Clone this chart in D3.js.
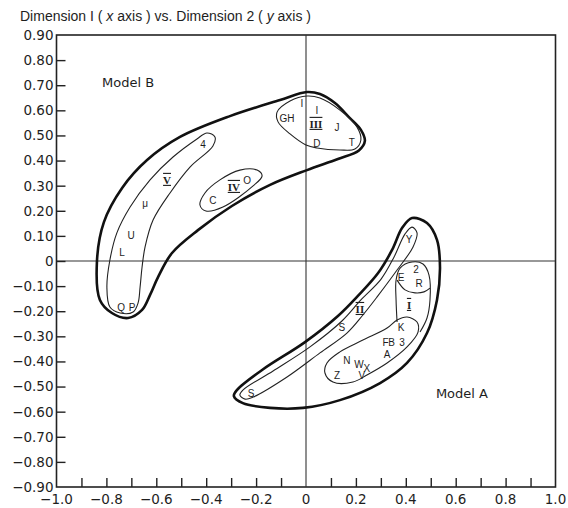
<!DOCTYPE html>
<html><head><meta charset="utf-8">
<script src="https://cdn.jsdelivr.net/npm/d3@7"></script>
<style>
body{margin:0;background:#fff}
text{fill:#1e1e1e}
.lbl{font-family:"Liberation Sans",Arial,sans-serif;font-size:10px}
.roman{font-family:"Liberation Serif",serif;font-size:11px;font-weight:bold;text-decoration:overline underline}
.tick{font-family:"DejaVu Sans",sans-serif;font-size:13.5px}
</style>
</head><body><svg id="c" width="568" height="508"></svg>
<script>
// ---- data ----
const xTickMarks = [-0.9,-0.8,-0.7,-0.6,-0.5,-0.4,-0.3,-0.2,-0.1,0.1,0.2,0.3,0.4,0.5,0.6,0.7,0.8,0.9];
const xTickLabelValues = [-1.0,-0.8,-0.6,-0.4,-0.2,0,0.2,0.4,0.6,0.8,1.0];
const xTickLabels = ["−1.0","−0.8","−0.6","−0.4","−0.2","0","0.2","0.4","0.6","0.8","1.0"];
const yTickValues = [0.9,0.8,0.7,0.6,0.5,0.4,0.3,0.2,0.1,0,-0.1,-0.2,-0.3,-0.4,-0.5,-0.6,-0.7,-0.8,-0.9];
const yTickLabels = ["0.90","0.80","0.70","0.60","0.50","0.40","0.30","0.20","0.10","0","−0.10","−0.20","−0.30","−0.40","−0.50","−0.60","−0.70","−0.80","−0.90"];

// stimulus labels [text, dim1, dim2]
const modelBPoints = [
  ["GH",-0.076,0.569],["I",-0.016,0.629],["I",0.044,0.601],["J",0.124,0.534],["D",0.044,0.470],["T",0.184,0.474],
  ["4",-0.413,0.466],["μ",-0.645,0.231],["U",-0.701,0.100],["L",-0.737,0.036],["Q",-0.741,-0.183],["P",-0.697,-0.183],
  ["C",-0.373,0.243],["O",-0.236,0.319]
];
const modelAPoints = [
  ["Y",0.413,0.088],["2",0.441,-0.032],["E",0.381,-0.064],["R",0.453,-0.088],["S",0.144,-0.263],["K",0.381,-0.263],
  ["F",0.319,-0.323],["B",0.343,-0.323],["3",0.385,-0.323],["A",0.325,-0.370],["N",0.164,-0.394],["W",0.212,-0.410],
  ["X",0.244,-0.426],["Z",0.124,-0.454],["V",0.224,-0.454],["S",-0.220,-0.526]
];
// cluster numerals [text, dim1, dim2]
const clusterLabels = [["III",0.040,0.546],["IV",-0.289,0.295],["V",-0.557,0.323],["I",0.413,-0.175],["II",0.216,-0.191]];
const modelLabels = [["Model B",-0.713,0.713],["Model A",0.625,-0.526]];

// outlines (dim1, dim2)
const modelBOuter = [[-0.826,-0.155],[-0.838,-0.004],[-0.810,0.155],[-0.737,0.291],[-0.637,0.402],[-0.505,0.494],[-0.305,0.577],[-0.104,0.641],[0.004,0.673],[0.056,0.665],[0.116,0.629],[0.176,0.569],[0.220,0.522],[0.236,0.478],[0.212,0.440],[0.128,0.406],[0.004,0.362],[-0.144,0.303],[-0.297,0.219],[-0.433,0.123],[-0.537,0.032],[-0.593,-0.064],[-0.625,-0.135],[-0.657,-0.195],[-0.713,-0.227],[-0.778,-0.207]];
const clusterIII = [[-0.116,0.593],[-0.064,0.637],[0.004,0.657],[0.056,0.649],[0.136,0.601],[0.204,0.534],[0.220,0.482],[0.196,0.446],[0.136,0.442],[0.044,0.450],[0.000,0.462],[-0.064,0.506],[-0.112,0.554]];
const clusterV = [[-0.397,0.510],[-0.365,0.494],[-0.373,0.458],[-0.465,0.374],[-0.545,0.271],[-0.613,0.163],[-0.645,0.056],[-0.657,-0.024],[-0.665,-0.104],[-0.673,-0.167],[-0.693,-0.203],[-0.745,-0.207],[-0.786,-0.183],[-0.798,-0.104],[-0.786,0.004],[-0.758,0.112],[-0.705,0.215],[-0.625,0.323],[-0.533,0.414],[-0.437,0.486]];
const clusterIV = [[-0.425,0.223],[-0.401,0.199],[-0.333,0.215],[-0.212,0.299],[-0.176,0.339],[-0.196,0.362],[-0.265,0.362],[-0.345,0.323],[-0.405,0.271]];
const modelAOuter = [[0.425,0.171],[0.485,0.151],[0.525,0.084],[0.537,-0.024],[0.525,-0.155],[0.485,-0.287],[0.405,-0.406],[0.297,-0.486],[0.136,-0.554],[-0.012,-0.585],[-0.144,-0.585],[-0.253,-0.566],[-0.289,-0.538],[-0.277,-0.514],[-0.176,-0.434],[-0.004,-0.323],[0.128,-0.219],[0.208,-0.139],[0.289,-0.048],[0.345,0.044],[0.385,0.131]];
const clusterII = [[0.425,0.135],[0.445,0.112],[0.429,0.056],[0.365,-0.036],[0.285,-0.143],[0.228,-0.215],[0.164,-0.287],[0.056,-0.366],[-0.076,-0.462],[-0.212,-0.542],[-0.244,-0.550],[-0.265,-0.534],[-0.253,-0.514],[-0.132,-0.438],[0.016,-0.342],[0.144,-0.239],[0.220,-0.155],[0.301,-0.072],[0.353,0.016],[0.397,0.108]];
const clusterI = [[0.365,-0.243],[0.361,-0.155],[0.361,-0.076],[0.377,-0.028],[0.425,-0.004],[0.469,-0.012],[0.493,-0.056],[0.497,-0.155],[0.485,-0.227],[0.457,-0.283]];
const clusterIDivider = [[0.365,-0.076],[0.397,-0.115],[0.437,-0.127],[0.473,-0.123],[0.497,-0.108]];
const clusterK = [[0.365,-0.235],[0.405,-0.223],[0.445,-0.243],[0.449,-0.283],[0.405,-0.342],[0.325,-0.406],[0.244,-0.454],[0.188,-0.482],[0.108,-0.482],[0.076,-0.446],[0.084,-0.406],[0.136,-0.362],[0.228,-0.315],[0.325,-0.267]];

// ---- drawing ----
const svg = d3.select("#c");
const x = d3.scaleLinear().domain([-1,1]).range([56.5,555.5]);
const y = d3.scaleLinear().domain([-0.9,0.9]).range([487,35]);
const ink = "#222";

// title
const title = svg.append("text").attr("x",20).attr("y",21)
  .style("font-family","'Liberation Sans',Arial,sans-serif").style("font-size","14px");
title.append("tspan").text("Dimension I ( ");
title.append("tspan").style("font-style","italic").text("x");
title.append("tspan").text(" axis ) vs. Dimension 2 ( ");
title.append("tspan").style("font-style","italic").text("y");
title.append("tspan").text(" axis )");

// frame
svg.append("rect").attr("x",x(-1)).attr("y",y(0.9)).attr("width",x(1)-x(-1)).attr("height",y(-0.9)-y(0.9))
  .attr("fill","none").attr("stroke",ink).attr("stroke-width",1.6);
// zero lines
svg.append("line").attr("x1",x(0)).attr("x2",x(0)).attr("y1",y(0.9)).attr("y2",y(-0.9)).attr("stroke","#333").attr("stroke-width",1.1);
svg.append("line").attr("x1",x(-1)).attr("x2",x(1)).attr("y1",y(0)).attr("y2",y(0)).attr("stroke","#333").attr("stroke-width",1.1);

// y ticks (inward)
const yAxis = d3.axisRight(y).tickValues(yTickValues.filter(v=>Math.abs(v)<0.85)).tickSize(9).tickFormat("");
const gy = svg.append("g").attr("transform",`translate(${x(-1)},0)`).call(yAxis);
gy.select(".domain").remove();
gy.selectAll("line").attr("stroke",ink).attr("stroke-width",1.4);
svg.selectAll(".ylab").data(yTickValues).join("text").attr("class","tick")
  .attr("x",x(-1)-3).attr("y",d=>y(d)).attr("dy","0.36em").attr("text-anchor","end")
  .text((d,i)=>yTickLabels[i]);

// x ticks (inward)
const xAxis = d3.axisTop(x).tickValues(xTickMarks).tickSize(9).tickFormat("");
const gx = svg.append("g").attr("transform",`translate(0,${y(-0.9)})`).call(xAxis);
gx.select(".domain").remove();
gx.selectAll("line").attr("stroke",ink).attr("stroke-width",1.4);
svg.selectAll(".xlab").data(xTickLabelValues).join("text").attr("class","tick")
  .attr("x",d=>x(d)).attr("y",y(-0.9)+17).attr("text-anchor","middle")
  .text((d,i)=>xTickLabels[i]);

// outlines
const closed = d3.line().x(d=>x(d[0])).y(d=>y(d[1])).curve(d3.curveCatmullRomClosed.alpha(0.5));
const open = d3.line().x(d=>x(d[0])).y(d=>y(d[1])).curve(d3.curveCatmullRom.alpha(0.5));
[modelBOuter, modelAOuter].forEach(p=>svg.append("path").attr("d",closed(p)).attr("fill","none").attr("stroke","#111").attr("stroke-width",2.6));
[clusterIII, clusterV, clusterIV, clusterII, clusterK].forEach(p=>svg.append("path").attr("d",closed(p)).attr("fill","none").attr("stroke","#222").attr("stroke-width",1.1));
[clusterI, clusterIDivider].forEach(p=>svg.append("path").attr("d",open(p)).attr("fill","none").attr("stroke","#222").attr("stroke-width",1.1));

// labels
svg.selectAll(".pt").data(modelBPoints.concat(modelAPoints)).join("text").attr("class","lbl")
  .attr("x",d=>x(d[1])).attr("y",d=>y(d[2])).attr("dy","0.36em").attr("text-anchor","middle").text(d=>d[0]);
svg.selectAll(".cl").data(clusterLabels).join("text").attr("class","roman")
  .attr("x",d=>x(d[1])).attr("y",d=>y(d[2])).attr("dy","0.36em").attr("text-anchor","middle").text(d=>d[0]);
svg.selectAll(".ml").data(modelLabels).join("text")
  .style("font-family","'DejaVu Sans',sans-serif").style("font-size","13px")
  .attr("x",d=>x(d[1])).attr("y",d=>y(d[2])).attr("dy","0.36em").attr("text-anchor","middle").text(d=>d[0]);
</script></body></html>
